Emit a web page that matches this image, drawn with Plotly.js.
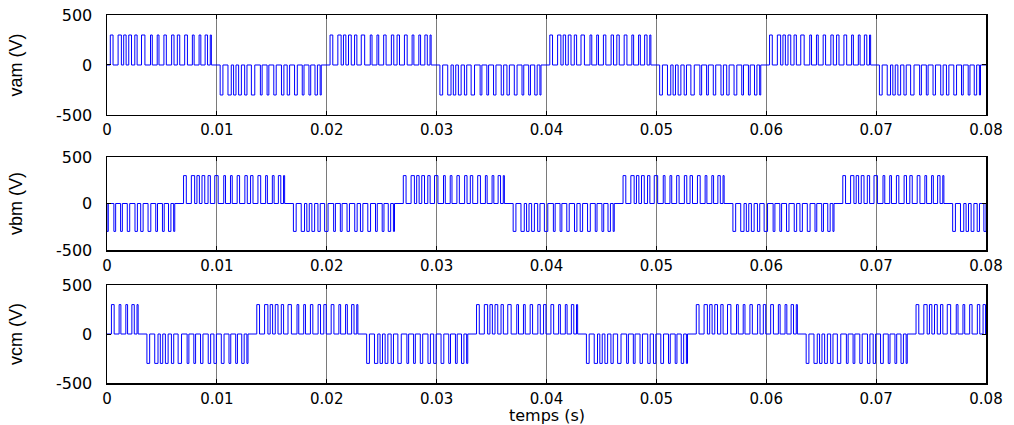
<!DOCTYPE html>
<html>
<head>
<meta charset="utf-8">
<script src="https://cdn.plot.ly/plotly-3.0.1.min.js"></script>
<style>html,body{margin:0;padding:0;background:#fff;}#chart{width:1014px;height:425px;}</style>
</head>
<body>
<div id="chart"></div>
<script>
// ---- data ----
const seriesNames = ["vam (V)", "vbm (V)", "vcm (V)"];
const xTitle = "temps (s)";
const amplitude = 300;                         // pulse height (V)
const halfPeriodMs = 10;                       // 50 Hz fundamental
const phaseDelayMs = [0, 6.667, 13.333];       // phase a, b, c delays
// pulse edges within one half-cycle (ms from the zero crossing)
const pulseOnMs  = [0.30, 1.01, 1.52, 1.98, 2.53, 3.14, 3.96, 4.57, 5.18, 5.88, 6.40, 7.07, 7.77, 8.38, 8.93, 9.40];
const pulseOffMs = [0.55, 1.31, 1.74, 2.23, 2.74, 3.45, 4.12, 4.73, 5.40, 6.10, 6.62, 7.32, 7.93, 8.54, 9.15, 9.50];
const xTickVals = [0, 0.01, 0.02, 0.03, 0.04, 0.05, 0.06, 0.07, 0.08];
const xTickText = ["0", "0.01", "0.02", "0.03", "0.04", "0.05", "0.06", "0.07", "0.08"];
const yTickVals = [-500, 0, 500];
const yTickText = ["-500", "0", "500"];
const tEndMs = 80;

function buildWave(delay) {
  const xs = [0], ys = [0];
  for (let k = -2; k < 10; k++) {
    const start = k * halfPeriodMs + delay;
    const sign = (k % 2 === 0) ? 1 : -1;
    for (let i = 0; i < pulseOnMs.length; i++) {
      let on = start + pulseOnMs[i], off = start + pulseOffMs[i];
      if (off <= 0 || on >= tEndMs) continue;
      on = Math.max(on, 0); off = Math.min(off, tEndMs);
      xs.push(on / 1000, on / 1000, off / 1000, off / 1000);
      ys.push(0, sign * amplitude, sign * amplitude, 0);
    }
  }
  xs.push(tEndMs / 1000); ys.push(0);
  return {xs, ys};
}

const traces = [];
const axNames = ["", "2", "3"];
for (let p = 0; p < 3; p++) {
  const w = buildWave(phaseDelayMs[p]);
  traces.push({x: w.xs, y: w.ys, type: "scatter", mode: "lines",
    xaxis: "x" + axNames[p], yaxis: "y" + axNames[p],
    line: {color: "#0000ff", width: 1}, hoverinfo: "skip", showlegend: false});
}

const yTickFont = {family: "DejaVu Sans, sans-serif", size: 16, color: "#000"};
const xTickFont = {family: "DejaVu Sans, sans-serif", size: 15, color: "#000"};
const titleFont = {family: "Liberation Sans Narrow, Liberation Sans, Arial, sans-serif", size: 18, color: "#000"};
const domains = [[0.7283, 1], [0.3614, 0.6141], [0, 0.2663]];

function xax(anchor) {
  return {domain: [0, 1], range: [0, 0.08], anchor: anchor,
    tickvals: xTickVals, ticktext: xTickText, tickfont: xTickFont,
    ticks: "inside", ticklen: 4, tickcolor: "#000", ticklabelstandoff: 1,
    showgrid: true, gridcolor: "#7a7a7a", gridwidth: 1,
    showline: true, linecolor: "#000", linewidth: 1.5, mirror: "ticks",
    zeroline: false, fixedrange: true};
}
function yax(anchor, dom, name) {
  return {domain: dom, range: [-500, 500], anchor: anchor,
    tickvals: yTickVals, ticktext: yTickText, tickfont: yTickFont,
    ticks: "inside", ticklen: 4, tickcolor: "#000", ticklabelstandoff: 10,
    showgrid: false, showline: true, linecolor: "#000", linewidth: 1.5, mirror: "ticks",
    zeroline: false, fixedrange: true,
    title: {text: name, font: titleFont, standoff: 28}};
}

const layout = {
  width: 1014, height: 425,
  margin: {l: 107, r: 28, t: 15, b: 42},
  paper_bgcolor: "#fff", plot_bgcolor: "#fff",
  showlegend: false,
  xaxis: xax("y"), yaxis: yax("x", domains[0], seriesNames[0]),
  xaxis2: xax("y2"), yaxis2: yax("x2", domains[1], seriesNames[1]),
  xaxis3: xax("y3"), yaxis3: yax("x3", domains[2], seriesNames[2]),
  annotations: [{text: xTitle, xref: "paper", yref: "paper", x: 0.5, y: -0.088,
    xanchor: "center", yanchor: "middle", showarrow: false,
    font: {family: "DejaVu Sans, sans-serif", size: 16, color: "#000"}}]
};

Plotly.newPlot("chart", traces, layout, {displayModeBar: false, staticPlot: true});
</script>
</body>
</html>
